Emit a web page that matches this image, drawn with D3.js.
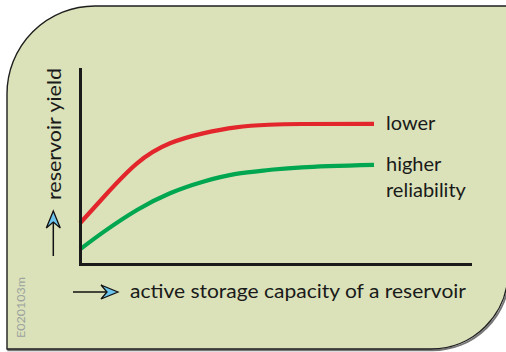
<!DOCTYPE html>
<html>
<head>
<meta charset="utf-8">
<script src="https://cdn.jsdelivr.net/npm/d3@7"></script>
<style>
  body { margin: 0; background: #fff; }
  svg { display: block; font-family: Lato, "Open Sans", sans-serif; }
</style>
</head>
<body>
<svg id="chart" width="506" height="352"></svg>
<script>
// storage (x) positions and yields
const storage = [0, 8, 19, 30, 41, 52, 63, 74, 98];
const yieldLower = [20.9, 34.5, 51.6, 61.9, 67, 70.1, 71.4, 71.8, 71.9];
const yieldHigher = [7.5, 16.6, 27.7, 36.3, 42.2, 46.2, 48.2, 49.6, 50.8];

const seriesNames = ["lower", "higher"];
const seriesLabels = [["lower"], ["higher", "reliability"]];
const seriesColors = ["#e2262c", "#00a650"];

const xLabel = "active storage capacity of a reservoir";
const yLabel = "reservoir yield";
const codeLabel = "E020103m";

const svg = d3.select("#chart");

// panel with two rounded corners (top-left, bottom-right)
const px0 = 7, py0 = 6, px1 = 508, py1 = 349, rTL = 88, rBR = 77;
const panelPath = `M${px0},${py0 + rTL} A${rTL},${rTL} 0 0 1 ${px0 + rTL},${py0} L${px1},${py0} L${px1},${py1 - rBR} A${rBR},${rBR} 0 0 1 ${px1 - rBR},${py1} L${px0},${py1} Z`;

svg.append("path")
  .attr("d", panelPath)
  .attr("transform", "translate(1.3,1.3)")
  .attr("fill", "none")
  .attr("stroke", "#777")
  .attr("stroke-width", 2);

svg.append("path")
  .attr("d", panelPath)
  .attr("fill", "#dbe2b9")
  .attr("stroke", "#1e1e1e")
  .attr("stroke-width", 1.4);

const x = d3.scaleLinear().domain([0, 130]).range([80, 470]);
const y = d3.scaleLinear().domain([0, 100]).range([264, 69]);

const line = d3.line()
  .x(d => x(d[0]))
  .y(d => y(d[1]))
  .curve(d3.curveNatural);

const allSeries = [yieldLower, yieldHigher];

allSeries.forEach((vals, i) => {
  svg.append("path")
    .datum(storage.map((s, j) => [s, vals[j]]))
    .attr("class", "curve " + seriesNames[i])
    .attr("d", line)
    .attr("fill", "none")
    .attr("stroke", seriesColors[i])
    .attr("stroke-width", 4.2);
});

// axes: plain lines, no ticks
svg.append("g")
  .attr("class", "axis axis-x")
  .attr("transform", `translate(0,${y(0)})`)
  .call(d3.axisBottom(x).tickValues([]).tickSizeOuter(0));

svg.append("g")
  .attr("class", "axis axis-y")
  .attr("transform", `translate(${x(0)},0)`)
  .call(d3.axisLeft(y).tickValues([]).tickSizeOuter(0));

svg.selectAll(".axis .domain")
  .attr("stroke", "#1a1a1a")
  .attr("stroke-width", 3)
  .attr("stroke-linecap", "square");

// series labels at the end of each curve
allSeries.forEach((vals, i) => {
  const lx = x(storage[storage.length - 1]) + 12;
  const ly = y(vals[vals.length - 1]) + 6;
  const t = svg.append("text")
    .attr("x", lx)
    .attr("y", ly)
    .attr("font-size", 20)
    .attr("fill", "#1a1a1a");
  seriesLabels[i].forEach((s, k) => {
    t.append("tspan").attr("x", lx).attr("dy", k == 0 ? 0 : 26).text(s);
  });
});

// blue arrow head shape (dart)
function arrowHead(g, tx, ty, angle) {
  g.append("path")
    .attr("d", "M0,0 L-17,-7 L-11,0 L-17,7 Z")
    .attr("transform", `translate(${tx},${ty}) rotate(${angle})`)
    .attr("fill", "#6cc3ec")
    .attr("stroke", "#111")
    .attr("stroke-width", 1.3)
    .attr("stroke-linejoin", "miter");
}

// x label + arrow
svg.append("line")
  .attr("x1", 73).attr("x2", 107)
  .attr("y1", 292).attr("y2", 292)
  .attr("stroke", "#111").attr("stroke-width", 1.5);
arrowHead(svg, 118, 292, 0);

svg.append("text")
  .attr("x", 130)
  .attr("y", 298)
  .attr("font-size", 19.5)
  .attr("fill", "#1a1a1a")
  .attr("textLength", 336)
  .attr("lengthAdjust", "spacingAndGlyphs")
  .text(xLabel);

// y label + arrow
svg.append("line")
  .attr("x1", 53.3).attr("x2", 53.3)
  .attr("y1", 256).attr("y2", 222)
  .attr("stroke", "#111").attr("stroke-width", 1.5);
arrowHead(svg, 53.3, 211, -90);

svg.append("text")
  .attr("transform", "translate(61,200) rotate(-90)")
  .attr("font-size", 19.5)
  .attr("fill", "#1a1a1a")
  .attr("textLength", 132)
  .attr("lengthAdjust", "spacingAndGlyphs")
  .text(yLabel);

// figure code
svg.append("text")
  .attr("transform", "translate(25,338) rotate(-90)")
  .attr("font-size", 12)
  .attr("fill", "#9ca3a0")
  .attr("textLength", 61)
  .attr("lengthAdjust", "spacingAndGlyphs")
  .text(codeLabel);
</script>
</body>
</html>
